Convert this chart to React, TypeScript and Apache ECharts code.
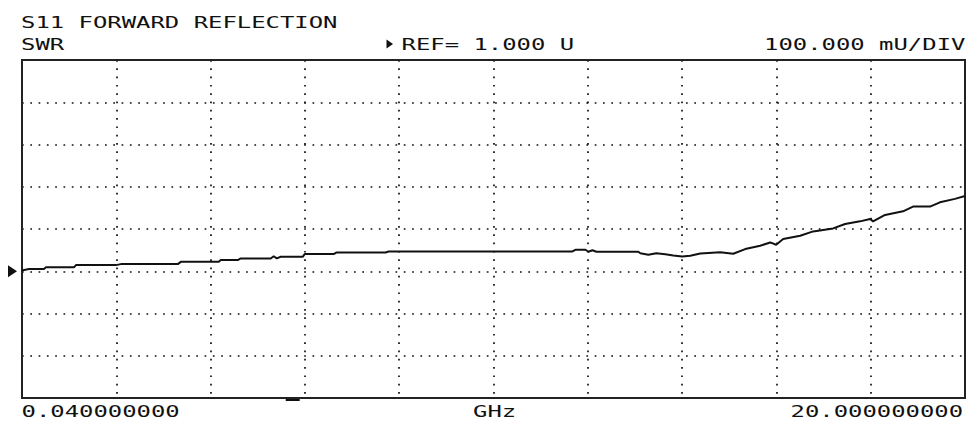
import React, { useEffect, useRef } from "react";
import * as echarts from "echarts";

// ---- Data ----
const FREQ_GHZ = [
  0.04, 0.061, 0.188, 0.505, 0.547, 1.139, 1.182, 2.028, 2.133, 3.338, 3.402, 4.205, 4.248, 4.607,
  4.67, 5.305, 5.368, 5.432, 5.516, 5.981, 6.024, 6.637, 6.7, 7.736, 7.8, 11.69, 11.754, 11.966,
  12.03, 12.113, 12.198, 13.086, 13.128, 13.297, 13.466, 13.657, 13.826, 14.016, 14.185, 14.396,
  14.819, 15.094, 15.348, 15.665, 15.877, 16.003, 16.151, 16.511, 16.786, 17.209, 17.462, 17.779,
  17.991, 18.054, 18.308, 18.688, 18.9, 19.259, 19.47, 19.787, 20.0,
];
const SWR = [
  1.001, 1.0026, 1.0055, 1.0055, 1.0093, 1.0093, 1.0145, 1.0145, 1.0169, 1.0169, 1.0223, 1.0223,
  1.0264, 1.0264, 1.0302, 1.0302, 1.0354, 1.0306, 1.0342, 1.0342, 1.0406, 1.0406, 1.0444, 1.0444,
  1.0468, 1.0468, 1.0508, 1.0508, 1.0461, 1.0496, 1.0461, 1.0461, 1.0425, 1.039, 1.0425, 1.04,
  1.0373, 1.0347, 1.0366, 1.042, 1.0449, 1.0413, 1.0525, 1.0603, 1.0682, 1.0627, 1.0762, 1.0841,
  1.0943, 1.1014, 1.1119, 1.1181, 1.1238, 1.1181, 1.1333, 1.1418, 1.153, 1.153, 1.1632, 1.1713,
  1.178,
];
const START_GHZ = 0.04;
const STOP_GHZ = 20;
const REF_VALUE = 1.0;
const DIV_VALUE = 0.1;
const DIVS_BELOW_REF = 3;
const DIVS_ABOVE_REF = 5;
const X_DIVS = 10;
const MARKER_GHZ = 5.77;

const TITLE = "S11 FORWARD REFLECTION";
const FORMAT_LABEL = "SWR";
const REF_LABEL = "REF= 1.000 U";
const SCALE_LABEL = "100.000 mU/DIV";
const START_LABEL = "0.040000000";
const UNIT_LABEL = "GHz";
const STOP_LABEL = "20.000000000";

const FONT = '16px "DejaVu Sans Mono", "Liberation Mono", monospace';
const SX = 1.495;
const INK = "#111";

function label(text: string, x: number, y: number) {
  return {
    type: "text",
    x,
    y,
    scaleX: SX,
    scaleY: 1,
    silent: true,
    style: {
      text,
      font: FONT,
      fill: INK,
      textAlign: "left",
      textVerticalAlign: "middle",
    },
  };
}

export default function App() {
  const ref = useRef<HTMLDivElement>(null);

  useEffect(() => {
    if (!ref.current) return;
    const chart = echarts.init(ref.current, undefined, { renderer: "svg" });
    const yMin = REF_VALUE - DIVS_BELOW_REF * DIV_VALUE;
    const yMax = REF_VALUE + DIVS_ABOVE_REF * DIV_VALUE;
    const dotted = { color: "#111", width: 1.7, type: [1.7, 6.6] as number[] };

    chart.setOption({
      animation: false,
      backgroundColor: "#fff",
      grid: {
        left: 22,
        right: 2,
        top: 60,
        bottom: 26,
        show: true,
        borderColor: "#222",
        borderWidth: 2,
        backgroundColor: "transparent",
        z: 3,
      },
      xAxis: [
        {
          type: "value",
          min: START_GHZ,
          max: STOP_GHZ,
          show: false,
        },
        {
          type: "value",
          min: 0,
          max: X_DIVS,
          interval: 1,
          position: "bottom",
          axisLine: { show: false },
          axisTick: { show: false },
          axisLabel: { show: false },
          splitLine: { show: true, lineStyle: dotted },
        },
      ],
      yAxis: {
        type: "value",
        min: yMin,
        max: yMax,
        interval: DIV_VALUE,
        axisLine: { show: false },
        axisTick: { show: false },
        axisLabel: { show: false },
        splitLine: { show: true, lineStyle: dotted },
      },
      series: [
        {
          type: "line",
          xAxisIndex: 0,
          yAxisIndex: 0,
          data: FREQ_GHZ.map((f, i) => [f, SWR[i]]),
          showSymbol: false,
          symbol: "none",
          silent: true,
          lineStyle: { color: INK, width: 2 },
          z: 5,
        },
      ],
    });

    const yRef = chart.convertToPixel({ yAxisIndex: 0 }, REF_VALUE) as number;
    const xMark = chart.convertToPixel({ xAxisIndex: 0 }, MARKER_GHZ) as number;

    chart.setOption({
      graphic: [
        label(TITLE, 21, 22),
        label(FORMAT_LABEL, 21, 44),
        {
          type: "polygon",
          silent: true,
          shape: { points: [[386.5, 39.5], [386.5, 48.5], [393, 44]] },
          style: { fill: INK },
        },
        label(REF_LABEL, 401.5, 44),
        label(SCALE_LABEL, 764, 44),
        label(START_LABEL, 21.5, 411.5),
        label(UNIT_LABEL, 473, 411.5),
        label(STOP_LABEL, 790.5, 411.5),
        {
          type: "polygon",
          silent: true,
          shape: { points: [[8, yRef - 6], [8, yRef + 6], [17, yRef]] },
          style: { fill: INK },
        },
        {
          type: "rect",
          silent: true,
          shape: { x: xMark - 7, y: 398.5, width: 14, height: 2.5 },
          style: { fill: INK },
        },
      ],
    });

    return () => chart.dispose();
  }, []);

  return (
    <div
      ref={ref}
      style={{ position: "fixed", left: 0, top: 0, width: 967, height: 424, background: "#fff" }}
    />
  );
}
